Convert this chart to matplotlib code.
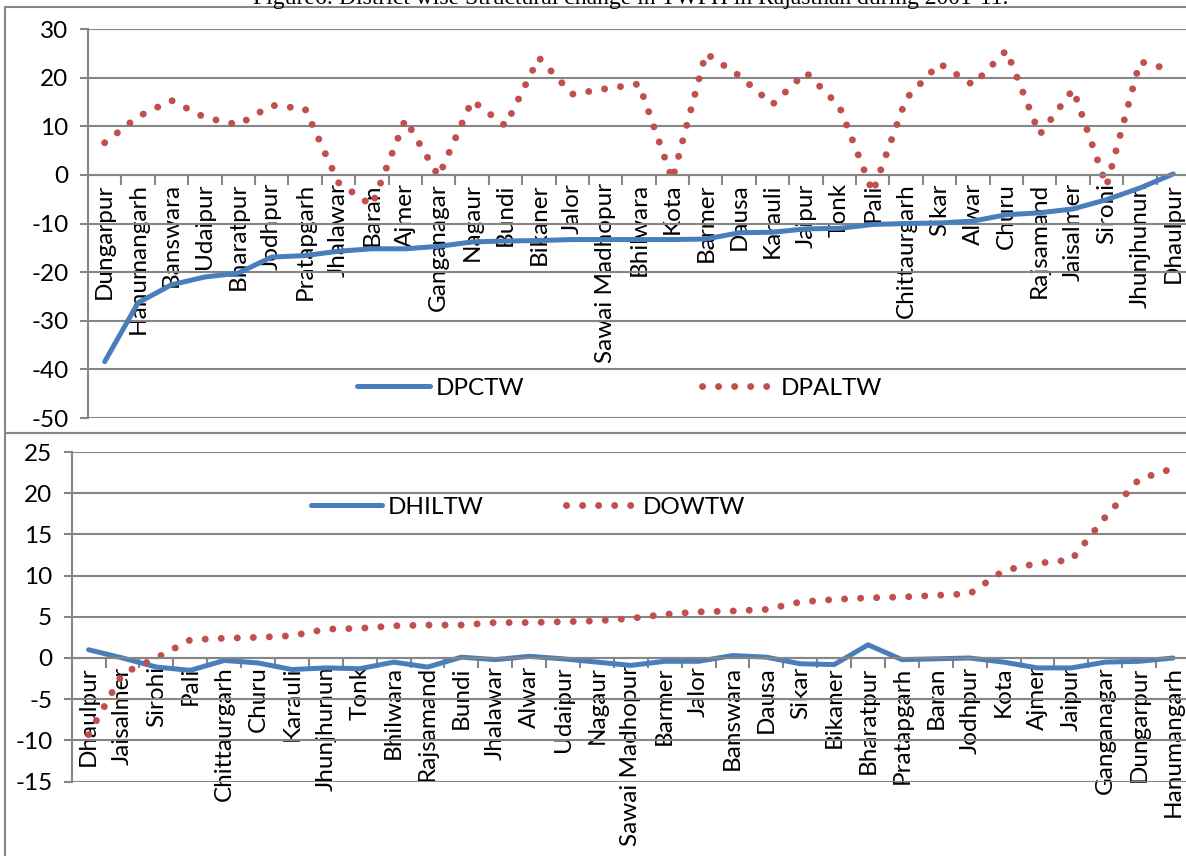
import numpy as np
import matplotlib

matplotlib.use('Agg')
import matplotlib.pyplot as plt
from matplotlib.patches import Rectangle

# top panel: districts sorted by DPCTW
top_districts = ['Dungarpur', 'Hanumangarh', 'Banswara', 'Udaipur', 'Bharatpur', 'Jodhpur',
                 'Pratapgarh', 'Jhalawar', 'Baran', 'Ajmer', 'Ganganagar', 'Nagaur', 'Bundi',
                 'Bikaner', 'Jalor', 'Sawai Madhopur', 'Bhilwara', 'Kota', 'Barmer', 'Dausa',
                 'Karauli', 'Jaipur', 'Tonk', 'Pali', 'Chittaurgarh', 'Sikar', 'Alwar', 'Churu',
                 'Rajsamand', 'Jaisalmer', 'Sirohi', 'Jhunjhunun', 'Dhaulpur']
dpctw = [-38.4, -26.3, -22.6, -21.0, -20.2, -16.9, -16.6, -15.7, -15.2, -15.2, -14.7, -13.8,
         -13.6, -13.5, -13.3, -13.3, -13.3, -13.3, -13.2, -11.9, -11.8, -11.1, -11.0, -10.2,
         -10.0, -9.9, -9.5, -8.2, -7.8, -7.0, -5.1, -2.7, 0.2]
dpaltw = [6.6, 12.0, 15.3, 11.8, 10.3, 14.3, 13.6, -1.6, -6.3, 11.4, -0.3, 15.3, 10.1, 24.1,
          16.6, 17.7, 18.7, -1.0, 25.0, 20.4, 14.5, 21.1, 14.1, -3.6, 15.7, 22.9, 18.5, 25.6,
          8.3, 17.6, -2.3, 23.3, 21.5]

# bottom panel: districts sorted by DOWTW
bot_districts = ['Dhaulpur', 'Jaisalmer', 'Sirohi', 'Pali', 'Chittaurgarh', 'Churu', 'Karauli',
                 'Jhunjhunun', 'Tonk', 'Bhilwara', 'Rajsamand', 'Bundi', 'Jhalawar', 'Alwar',
                 'Udaipur', 'Nagaur', 'Sawai Madhopur', 'Barmer', 'Jalor', 'Banswara', 'Dausa',
                 'Sikar', 'Bikaner', 'Bharatpur', 'Pratapgarh', 'Baran', 'Jodhpur', 'Kota',
                 'Ajmer', 'Jaipur', 'Ganganagar', 'Dungarpur', 'Hanumangarh']
dhiltw = [1.0, 0.0, -1.1, -1.5, -0.3, -0.6, -1.4, -1.2, -1.3, -0.5, -1.1, 0.1, -0.2, 0.2, -0.1,
          -0.5, -0.9, -0.4, -0.4, 0.3, 0.1, -0.7, -0.8, 1.6, -0.2, -0.1, 0.0, -0.5, -1.2, -1.2,
          -0.5, -0.4, 0.0]
dowtw = [-9.3, -1.9, 0.0, 2.2, 2.4, 2.5, 2.7, 3.5, 3.6, 3.9, 4.0, 4.0, 4.3, 4.3, 4.4, 4.5, 4.8,
         5.3, 5.6, 5.7, 5.9, 6.8, 7.1, 7.3, 7.4, 7.6, 7.8, 10.6, 11.5, 11.9, 17.1, 21.7, 23.0]

title = 'Figure6: District wise Structural change in TWFH in Rajasthan during 2001-11.'

plt.rcParams['font.family'] = ['Lato', 'DejaVu Sans']
plt.rcParams['axes.unicode_minus'] = False
FS = 17.5
GRID = '#868686'
BLUE = '#4A7EBB'
RED = '#C0504D'

W, H = 1186, 856
fig = plt.figure(figsize=(W / 100, H / 100), dpi=100)


def px_axes(left, right, top, bottom):
    return fig.add_axes([left / W, 1 - bottom / H, (right - left) / W, (bottom - top) / H])


def style_chart(ax, names, ylim, ystep):
    n = len(names)
    x = np.arange(n)
    ax.set_xlim(-0.5, n - 0.5)
    ax.set_ylim(*ylim)
    ax.set_yticks(np.arange(ylim[0], ylim[1] + 1, ystep))
    for s in ['top', 'right']:
        ax.spines[s].set_visible(False)
    ax.spines['left'].set_color(GRID)
    ax.spines['left'].set_linewidth(1.5)
    ax.spines['bottom'].set_color(GRID)
    ax.spines['bottom'].set_linewidth(1.5)
    ax.spines['bottom'].set_position(('data', 0))
    ax.yaxis.grid(True, color=GRID, linewidth=1.5)
    ax.set_xticks(x)
    ax.set_xticklabels(names, rotation=90, fontsize=FS, va='top', ha='center')
    ax.set_xticks(np.arange(-0.5, n, 1), minor=True)
    ax.tick_params(axis='x', which='major', length=0, pad=6)
    ax.tick_params(axis='x', which='minor', length=7, width=1.5, color=GRID, direction='out')
    ax.tick_params(axis='y', length=6, width=1.5, color=GRID, pad=8, labelsize=FS)
    ax.patch.set_alpha(0)
    return x


# chart area frames
fig.add_artist(Rectangle((5 / W, 1 - 433 / H), 1.2, (433 - 7) / H, transform=fig.transFigure,
                         fill=False, edgecolor=GRID, linewidth=1.5))
fig.add_artist(Rectangle((5 / W, -0.2), 1.2, 0.2 + 1 - 433 / H, transform=fig.transFigure,
                         fill=False, edgecolor=GRID, linewidth=1.5))
fig.text(0.532, 1 - 4 / H, title, family='Liberation Serif', fontsize=17,
         ha='center', va='baseline')

# top chart
ax1 = px_axes(88, 1190, 29, 418)
x1 = style_chart(ax1, top_districts, (-50, 30), 10)
ax1.plot(x1, dpctw, color=BLUE, linewidth=3.6, solid_capstyle='round', label='DPCTW')
ax1.plot(x1, dpaltw, color=RED, linewidth=5, dashes=(0.01, 2.3), dash_capstyle='round',
         label='DPALTW')
ax1.legend(loc='center left', bbox_to_anchor=(0.244, 0.077), ncol=2, frameon=False,
           fontsize=FS, borderpad=0, borderaxespad=0, handlelength=3.0, handletextpad=0.25,
           columnspacing=7.3)

# bottom chart
ax2 = px_axes(71.7, 1190, 452, 781.6)
x2 = style_chart(ax2, bot_districts, (-15, 25), 5)
ax2.plot(x2, dhiltw, color=BLUE, linewidth=3.6, solid_capstyle='round', label='DHILTW')
ax2.plot(x2, dowtw, color=RED, linewidth=5, dashes=(0.01, 2.3), dash_capstyle='round',
         label='DOWTW')
ax2.legend(loc='center left', bbox_to_anchor=(0.214, 0.833), ncol=2, frameon=False,
           fontsize=FS, borderpad=0, borderaxespad=0, handlelength=2.9, handletextpad=0.25,
           columnspacing=3.4)

fig.savefig('out.png', dpi=100)
